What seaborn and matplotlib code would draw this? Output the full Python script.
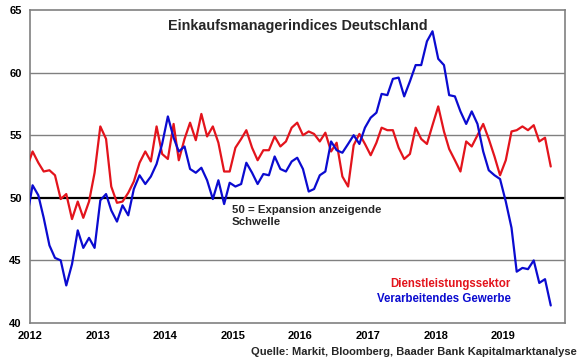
import pandas as pd
import numpy as np
import matplotlib
matplotlib.use('Agg')
import matplotlib.pyplot as plt
import matplotlib.dates as mdates
import seaborn as sns

# monthly PMI readings, Dec 2011 .. Sep 2019
dienstleistung = [
    52.4,
    53.7, 52.8, 52.1, 52.2, 51.8, 49.9, 50.3, 48.3, 49.7, 48.4, 49.7, 52.0,
    55.7, 54.7, 50.9, 49.6, 49.7, 50.4, 51.3, 52.8, 53.7, 52.9, 55.7, 53.5,
    53.1, 55.9, 53.0, 54.7, 56.0, 54.6, 56.7, 54.9, 55.7, 54.4, 52.1, 52.1,
    54.0, 54.7, 55.4, 54.0, 53.0, 53.8, 53.8, 54.9, 54.1, 54.5, 55.6, 56.0,
    55.0, 55.3, 55.1, 54.5, 55.2, 53.7, 54.4, 51.7, 50.9, 54.2, 55.1, 54.3,
    53.4, 54.4, 55.6, 55.4, 55.4, 54.0, 53.1, 53.5, 55.6, 54.7, 54.3, 55.8,
    57.3, 55.3, 53.9, 53.0, 52.1, 54.5, 54.1, 55.0, 55.9, 54.7, 53.3, 51.8,
    53.0, 55.3, 55.4, 55.7, 55.4, 55.8, 54.5, 54.8, 52.5,
]
verarbeitend = [
    48.4,
    51.0, 50.2, 48.4, 46.2, 45.2, 45.0, 43.0, 44.7, 47.4, 46.0, 46.8, 46.0,
    49.8, 50.3, 49.0, 48.1, 49.4, 48.6, 50.7, 51.8, 51.1, 51.7, 52.7, 54.3,
    56.5, 54.8, 53.7, 54.1, 52.3, 52.0, 52.4, 51.4, 49.9, 51.4, 49.5, 51.2,
    50.9, 51.1, 52.8, 52.0, 51.1, 51.9, 51.8, 53.3, 52.3, 52.1, 52.9, 53.2,
    52.3, 50.5, 50.7, 51.8, 52.1, 54.5, 53.8, 53.6, 54.3, 55.0, 54.3, 55.6,
    56.4, 56.8, 58.3, 58.2, 59.5, 59.6, 58.1, 59.3, 60.6, 60.6, 62.5, 63.3,
    61.1, 60.6, 58.2, 58.1, 56.9, 55.9, 56.9, 55.9, 53.7, 52.2, 51.8, 51.5,
    49.7, 47.6, 44.1, 44.4, 44.3, 45.0, 43.2, 43.5, 41.4,
]
series_names = ['Dienstleistungssektor', 'Verarbeitendes Gewerbe']
series_colors = ['#e3141c', '#0b0bd0']
year_ticks = list(range(2012, 2020))
y_ticks = [40, 45, 50, 55, 60, 65]

# mid-month dates, starting December 2011
dates = pd.date_range('2011-12-01', periods=len(dienstleistung), freq='MS') + pd.Timedelta(days=14)
df = pd.DataFrame({
    'Datum': np.concatenate([dates, dates]),
    'Wert': dienstleistung + verarbeitend,
    'Reihe': [series_names[0]] * len(dates) + [series_names[1]] * len(dates),
})

sns.set_theme(style='white')
plt.rcParams['font.family'] = ['Liberation Sans', 'DejaVu Sans']
plt.rcParams['font.weight'] = 'bold'

fig = plt.figure(figsize=(5.8, 3.59), dpi=100)
ax = fig.add_axes([30 / 580, 1 - 323 / 359, 535 / 580, 313 / 359])

# grid lines first so the series lie on top
for yv in [45, 55, 60]:
    ax.axhline(yv, color='#808080', lw=1.0, zorder=1)
ax.axhline(50, color='black', lw=1.6, zorder=1)

sns.lineplot(data=df, x='Datum', y='Wert', hue='Reihe', palette=series_colors,
             hue_order=series_names, linewidth=1.6, legend=False, ax=ax, zorder=3)

ax.set_xlim(pd.Timestamp('2012-01-01'), pd.Timestamp('2019-12-01'))
ax.set_ylim(40, 65)
ax.set_yticks(y_ticks)
ax.set_xticks([pd.Timestamp(f'{y}-01-01') for y in year_ticks])
ax.xaxis.set_major_formatter(mdates.DateFormatter('%Y'))
ax.set_xlabel('')
ax.set_ylabel('')

for sp in ax.spines.values():
    sp.set_color('#808080')
    sp.set_linewidth(1.2)
ax.tick_params(axis='both', which='major', labelsize=8, colors='black',
               length=4, width=1, color='#808080', direction='out', pad=2)
for lbl in ax.get_xticklabels() + ax.get_yticklabels():
    lbl.set_fontweight('bold')

ax.text(0.5, 0.97, 'Einkaufsmanagerindices Deutschland', transform=ax.transAxes,
        ha='center', va='top', fontsize=10.4, fontweight='bold')
ax.text(pd.Timestamp('2014-12-25'), 49.4, '50 = Expansion anzeigende\nSchwelle',
        ha='left', va='top', fontsize=8.2, fontweight='bold', linespacing=1.15)
ax.text(pd.Timestamp('2019-02-10'), 43.1, series_names[0], color=series_colors[0],
        ha='right', va='center', fontsize=8.3, fontweight='bold')
ax.text(pd.Timestamp('2019-02-10'), 41.9, series_names[1], color=series_colors[1],
        ha='right', va='center', fontsize=8.3, fontweight='bold')

fig.text(577 / 580, 1 - 352 / 359, 'Quelle: Markit, Bloomberg, Baader Bank Kapitalmarktanalyse',
         ha='right', va='center', fontsize=8, fontweight='bold')

fig.savefig('out.png', dpi=100)
